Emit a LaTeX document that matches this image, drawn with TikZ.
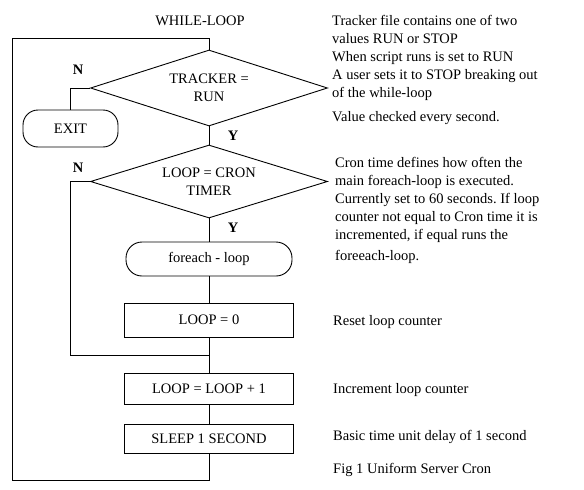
\documentclass[tikz,border=0pt]{standalone}
\usepackage{fontspec}
\setmainfont{Liberation Serif}
\usetikzlibrary{shapes.geometric}
\frenchspacing
\begin{document}
\begin{tikzpicture}[x=1pt,y=-1pt,
  every node/.style={font=\fontsize{14.5}{18}\selectfont},
  line/.style={draw=black,line width=0.9pt},
  decision/.style={diamond,shape aspect=3.12,draw=black,line width=0.9pt,inner sep=0pt,align=center,minimum width=237pt,minimum height=76pt},
  procbox/.style={rectangle,draw=black,line width=0.9pt,inner sep=0pt,minimum width=169pt},
  terminal/.style={rectangle,draw=black,line width=0.9pt,inner sep=0pt},
  yn/.style={font=\fontsize{14.5}{18}\selectfont\bfseries,inner sep=0pt},
  note/.style={align=left,inner sep=0pt}
]
\useasboundingbox (0,0) rectangle (584,490);
\fill[white] (0,0) rectangle (584,490);

\node[inner sep=0pt] (title) at (200,21) {WHILE-LOOP};

\node[decision] (d1) at (209,88) {TRACKER =\\RUN};
\node[terminal,rounded corners=15pt,minimum width=95pt,minimum height=37pt] (exit) at (70.5,128.5) {EXIT};
\node[decision,minimum height=73pt] (d2) at (209,181.5) {LOOP = CRON\\TIMER};
\node[terminal,rounded corners=16pt,minimum width=166pt,minimum height=34pt] (fe) at (209,259) {foreach - loop};
\node[procbox,minimum height=34pt] (b0) at (209,320) {LOOP = 0};
\node[procbox,minimum height=31pt] (b1) at (209,388.5) {LOOP = LOOP + 1};
\node[procbox,minimum height=29pt] (b2) at (209,438.5) {SLEEP 1 SECOND};

\node[yn] (n1) at (78,70) {N};
\node[yn] (y1) at (233,136) {Y};
\node[yn] (n2) at (78,168) {N};
\node[yn] (y2) at (233,228) {Y};

\coordinate (loopB) at (12,480);
\coordinate (loopL) at (12,38);
\coordinate (nb) at (70,355);
\coordinate (join) at (209,355);

\draw[line] (b2.south) |- (loopB) -- (loopL) -| (d1.north);
\draw[line] (d1.west) -| (exit.north);
\draw[line] (d1.south) -- (d2.north);
\draw[line] (d2.west) -| (nb) -- (join);
\draw[line] (d2.south) -- (fe.north);
\draw[line] (fe.south) -- (b0.north);
\draw[line] (b0.south) -- (b1.north);
\draw[line] (b1.south) -- (b2.north);

\node[note,anchor=north west] (t1) at (332,15) {Tracker file contains one of two\\values RUN or STOP\\When script runs is set to RUN\\A user sets it to STOP breaking out\\of the while-loop\\[6pt]Value checked every second.};
\node[note,anchor=north west] (t2) at (335,157) {Cron time defines how often the\\main foreach-loop is executed.\\Currently set to 60 seconds. If loop\\counter not equal to Cron time it is\\incremented, if equal runs the\\[3pt]foreeach-loop.};
\node[note,anchor=west] (t3) at (333,322) {Reset loop counter};
\node[note,anchor=west] (t4) at (333,390) {Increment loop counter};
\node[note,anchor=west] (t5) at (333,437) {Basic time unit delay of 1 second};
\node[note,anchor=west] (t6) at (333,470) {Fig 1 Uniform Server Cron};
\end{tikzpicture}
\end{document}
